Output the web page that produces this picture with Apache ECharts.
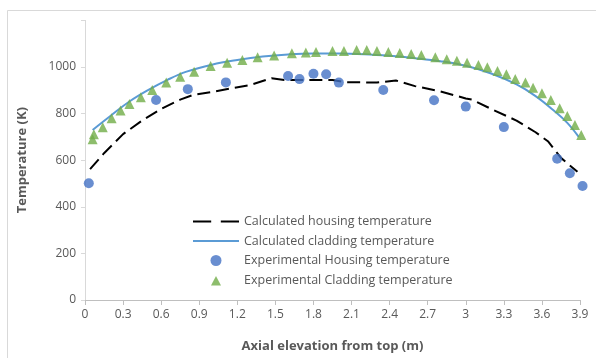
<!DOCTYPE html>
<html><head><meta charset="utf-8">
<script src="https://cdn.jsdelivr.net/npm/echarts@6/dist/echarts.min.js"></script>
<style>html,body{margin:0;padding:0;background:#fff}#c{width:596px;height:358px}</style>
</head><body><div id="c"></div>
<script>
// Calculated housing temperature (dashed black)
const calcHousingX = [0.04,0.15,0.30,0.45,0.60,0.75,0.85,1.00,1.15,1.30,1.47,1.57,1.80,1.95,2.05,2.30,2.45,2.60,2.80,3.00,3.05,3.20,3.40,3.55,3.65,3.75,3.88];
const calcHousingY = [562,630,712,770,820,860,880,893,908,922,952,944,944,944,935,933,942,918,895,865,860,820,770,720,680,610,550];
// Calculated cladding temperature (solid blue)
const calcCladX = [0.06,0.20,0.35,0.50,0.65,0.80,1.00,1.20,1.40,1.60,1.80,2.00,2.20,2.40,2.60,2.80,3.00,3.20,3.40,3.55,3.70,3.80,3.89];
const calcCladY = [730,790,852,902,945,980,1010,1030,1045,1054,1058,1058,1055,1048,1038,1025,1005,972,925,875,810,760,700];
// Experimental housing temperature (circles)
const expHousingX = [0.03,0.56,0.81,1.11,1.60,1.69,1.80,1.90,2.00,2.35,2.75,3.00,3.30,3.72,3.82,3.92];
const expHousingY = [501,858,905,934,961,948,971,969,933,901,857,830,742,606,544,489];
// Experimental cladding temperature (triangles)
const expCladX = [0.06,0.07,0.14,0.21,0.28,0.35,0.44,0.53,0.64,0.75,0.86,0.99,1.12,1.24,1.36,1.49,1.63,1.74,1.82,1.95,2.04,2.14,2.22,2.30,2.39,2.48,2.57,2.65,2.76,2.85,2.93,3.01,3.10,3.17,3.25,3.32,3.39,3.47,3.53,3.60,3.67,3.74,3.80,3.86,3.91];
const expCladY = [690,711,741,780,813,841,870,901,934,958,980,1004,1018,1030,1042,1049,1059,1062,1064,1069,1069,1073,1073,1069,1064,1060,1056,1052,1042,1033,1027,1018,1009,999,983,969,948,933,911,887,858,823,790,751,708];

const seriesNames = ['Calculated housing temperature','Calculated cladding temperature','Experimental Housing temperature','Experimental Cladding temperature'];
const xAxisTitle = 'Axial elevation from top (m)';
const yAxisTitle = 'Temperature (K)';

const zip = (xs, ys) => xs.map((x, i) => [x, ys[i]]);
const FONT = 'Open Sans';
const GREY = '#595959';
const DASH_ICON = 'path://M0,0h17v2h-17z M26,0h17v2h-17z';
const LINE_ICON = 'path://M0,0h44v2h-44z';
const TRI_ICON = 'path://M0,0 M44,11 M17,11 L22,1.5 L27,11 Z';

const chart = echarts.init(document.getElementById('c'), null, {renderer: 'canvas'});
chart.setOption({
  animation: false,
  backgroundColor: '#fff',
  graphic: [{
    type: 'rect', left: 5, top: 8, silent: true, z: -10,
    shape: {x: 0, y: 0, width: 640, height: 400},
    style: {fill: 'none', stroke: '#D9D9D9', lineWidth: 1}
  }],
  grid: {left: 85, right: 16, top: 20.4, bottom: 58, containLabel: false},
  legend: {
    orient: 'vertical', left: 193, top: 215, padding: 0,
    itemWidth: 46, itemHeight: 11, itemGap: 6.5,
    symbolKeepAspect: true,
    textStyle: {color: GREY, fontSize: 12.5, fontFamily: FONT},
    data: [
      {name: seriesNames[0], icon: DASH_ICON},
      {name: seriesNames[1], icon: LINE_ICON},
      {name: seriesNames[2], icon: 'circle'},
      {name: seriesNames[3], icon: TRI_ICON}
    ]
  },
  xAxis: {
    type: 'value', min: 0, max: 3.9, interval: 0.3,
    name: xAxisTitle, nameLocation: 'middle', nameGap: 40,
    nameTextStyle: {color: GREY, fontSize: 13, fontWeight: 'bold', fontFamily: FONT},
    axisLine: {show: true, lineStyle: {color: '#BFBFBF', width: 1}},
    axisTick: {show: true, length: 5, lineStyle: {color: '#BFBFBF'}},
    axisLabel: {color: GREY, fontSize: 12, fontFamily: FONT, margin: 9},
    splitLine: {show: false}
  },
  yAxis: {
    type: 'value', min: 0, max: 1200, interval: 200,
    name: yAxisTitle, nameLocation: 'middle', nameGap: 56, nameRotate: 90,
    nameTextStyle: {color: GREY, fontSize: 13, fontWeight: 'bold', fontFamily: FONT},
    axisLine: {show: true, lineStyle: {color: '#D9D9D9', width: 1}},
    axisTick: {show: true, length: 4, lineStyle: {color: '#D9D9D9'}},
    axisLabel: {color: GREY, fontSize: 12, fontFamily: FONT, margin: 9,
      formatter: v => (v >= 1200 ? '' : String(v))},
    splitLine: {show: false}
  },
  series: [
    {name: seriesNames[0], type: 'line', data: zip(calcHousingX, calcHousingY),
     symbol: 'none', smooth: false, z: 2,
     lineStyle: {color: '#000', width: 2, type: [13, 6]}, itemStyle: {color: '#000'}},
    {name: seriesNames[1], type: 'line', data: zip(calcCladX, calcCladY),
     symbol: 'none', smooth: 0.4, z: 2,
     lineStyle: {color: '#5B9BD5', width: 2}, itemStyle: {color: '#5B9BD5'}},
    {name: seriesNames[2], type: 'scatter', data: zip(expHousingX, expHousingY),
     symbol: 'circle', symbolSize: 10, z: 3, clip: false, itemStyle: {color: '#4472C4'}},
    {name: seriesNames[3], type: 'scatter', data: zip(expCladX, expCladY),
     symbol: 'triangle', symbolSize: 10, z: 4, clip: false, itemStyle: {color: '#70AD47'}}
  ]
});
</script></body></html>
